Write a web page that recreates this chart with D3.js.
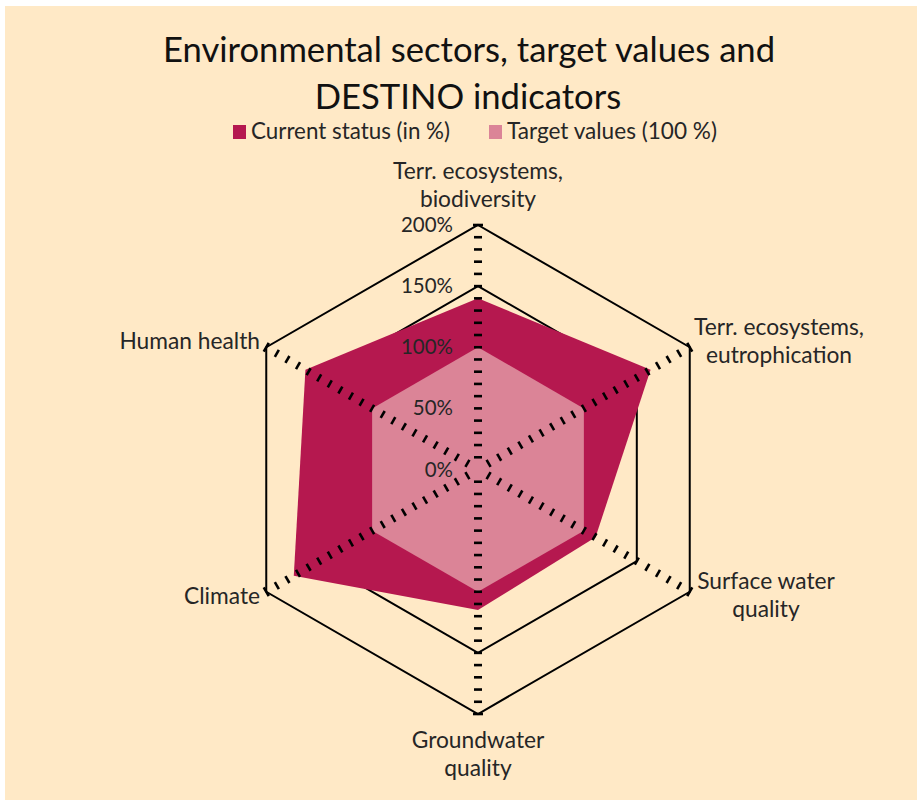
<!DOCTYPE html>
<html>
<head>
<meta charset="utf-8">
<script src="https://cdn.jsdelivr.net/npm/d3@7"></script>
<style>
  html, body { margin: 0; padding: 0; background: #ffffff; }
  svg { display: block; }
  text { font-family: Lato, "Open Sans", "DejaVu Sans", sans-serif; }
</style>
</head>
<body>
<svg id="chart" width="922" height="809"></svg>
<script>
// ---- data ----
const titleLines = ["Environmental sectors, target values and", "DESTINO indicators"];
const categories = [
  ["Terr. ecosystems,", "biodiversity"],
  ["Terr. ecosystems,", "eutrophication"],
  ["Surface water", "quality"],
  ["Groundwater", "quality"],
  ["Climate"],
  ["Human health"]
];
const seriesNames = ["Current status (in %)", "Target values (100 %)"];
const currentStatus = [1.40, 1.63, 1.11, 1.15, 1.74, 1.63];
const targetValues  = [1.00, 1.00, 1.00, 1.00, 1.00, 1.00];
const tickLabelValues = [0, 0.5, 1.0, 1.5, 2.0];
const tickLabels = ["0%", "50%", "100%", "150%", "200%"];
const gridValues = [0.5, 1.0, 1.5, 2.0];
const minorTickValues = d3.range(1, 21).map(d => d / 10);

// ---- styles ----
const colors = { current: "#B5184F", target: "#DB8497", bg: "#FFE9C6", text: "#262626" };

const svg = d3.select("#chart");
svg.append("rect").attr("x", 5).attr("y", 6).attr("width", 912).attr("height", 794).attr("fill", colors.bg);

function fit(sel, w, start) {
  let fs = start;
  sel.style("font-size", fs + "px");
  for (let i = 0; i < 4; i++) {
    const len = sel.node().getComputedTextLength();
    fs = fs * w / len;
    sel.style("font-size", fs + "px");
  }
  return fs;
}

// title
const t1 = svg.append("text").attr("x", 469).attr("y", 62).attr("text-anchor", "middle")
  .attr("fill", "#111").text(titleLines[0]);
const tfs = fit(t1, 612, 30);
svg.append("text").attr("x", 468).attr("y", 109).attr("text-anchor", "middle")
  .attr("fill", "#111").style("font-size", tfs + "px").text(titleLines[1]);

// legend
const legendItems = [
  { name: seriesNames[0], color: colors.current, x: 233, w: 199 },
  { name: seriesNames[1], color: colors.target, x: 489, w: 210 }
];
legendItems.forEach(it => {
  svg.append("rect").attr("x", it.x).attr("y", 125).attr("width", 13).attr("height", 14).attr("fill", it.color);
  const t = svg.append("text").attr("x", it.x + 18).attr("y", 139).attr("fill", colors.text).text(it.name);
  fit(t, it.w, 19);
});

// radar
const cx = 478, cy = 469.5;
const r = d3.scaleLinear().domain([0, 2]).range([0, 244.5]);
const angle = d3.scaleLinear().domain([0, categories.length]).range([0, 2 * Math.PI]);

const g = svg.append("g").attr("transform", `translate(${cx},${cy})`);
const radial = d3.lineRadial().angle((d, i) => angle(i)).radius(d => r(d)).curve(d3.curveLinearClosed);

// gridlines
gridValues.forEach(v => {
  g.append("path").attr("d", radial(categories.map(() => v)))
    .attr("fill", "none").attr("stroke", "#000").attr("stroke-width", 2).attr("stroke-linejoin", "miter");
});

// series fills
g.append("path").attr("d", radial(currentStatus)).attr("fill", colors.current);
g.append("path").attr("d", radial(targetValues)).attr("fill", colors.target);

// spoke tick marks (perpendicular dashes)
categories.forEach((c, i) => {
  const a = angle(i);
  const ux = Math.sin(a), uy = -Math.cos(a);
  const px = -uy, py = ux;
  minorTickValues.forEach(v => {
    const half = v >= 2 ? 5 : 4;
    const x0 = r(v) * ux, y0 = r(v) * uy;
    g.append("line")
      .attr("x1", x0 - px * half).attr("y1", y0 - py * half)
      .attr("x2", x0 + px * half).attr("y2", y0 + py * half)
      .attr("stroke", "#000").attr("stroke-width", 2.6);
  });
});

// tick labels
const tprobe = svg.append("text").text(tickLabels[4]);
const tkfs = fit(tprobe, 52, 18);
tprobe.remove();
tickLabelValues.forEach((v, i) => {
  svg.append("text").attr("x", 453).attr("y", cy - r(v) + 7)
    .attr("text-anchor", "end").attr("fill", colors.text).style("font-size", tkfs + "px").text(tickLabels[i]);
});

// category labels
const catPos = [
  { dx: 0, dy: -291, anchor: "middle" },
  { dx: 301, dy: -135, anchor: "middle" },
  { dx: 288, dy: 119, anchor: "middle" },
  { dx: 0, dy: 278, anchor: "middle" },
  { dx: -220, dy: 134, anchor: "end" },
  { dx: -220, dy: -121, anchor: "end" }
];
const probe = svg.append("text").text(categories[0][0]);
const cfs = fit(probe, 170, 18);
probe.remove();
categories.forEach((lines, i) => {
  const p = catPos[i];
  const t = svg.append("text").attr("text-anchor", p.anchor).attr("fill", colors.text)
    .style("font-size", cfs + "px");
  lines.forEach((l, k) => {
    t.append("tspan").attr("x", cx + p.dx + (p.anchor === "end" ? 2 : 0))
      .attr("y", cy + p.dy + k * 28).text(l);
  });
});
</script>
</body>
</html>
